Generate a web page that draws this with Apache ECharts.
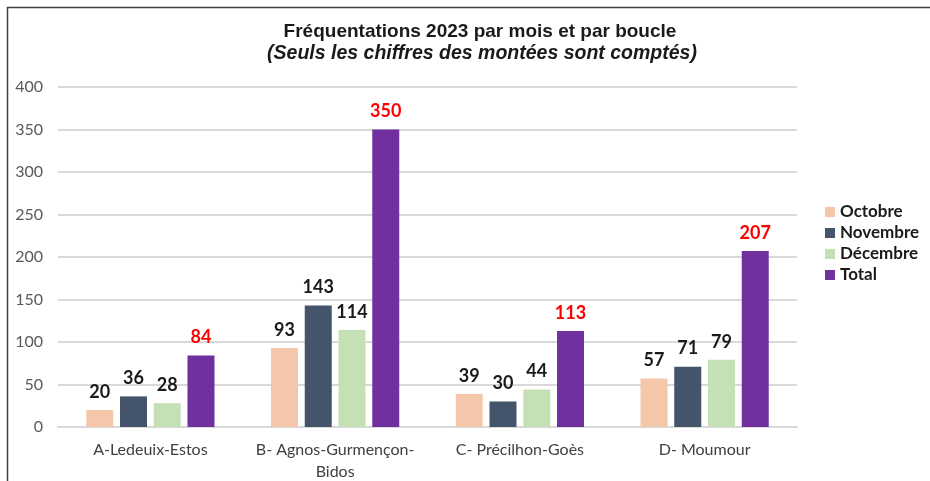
<!DOCTYPE html>
<html>
<head>
<meta charset="utf-8">
<script src="https://cdn.jsdelivr.net/npm/echarts@6/dist/echarts.min.js"></script>
<style>
html, body { margin: 0; padding: 0; background: #fff; }
#chart { width: 930px; height: 481px; }
</style>
</head>
<body>
<div id="chart"></div>
<script>
var categories = ['A-Ledeuix-Estos', 'B- Agnos-Gurmençon-\nBidos', 'C- Précilhon-Goès', 'D- Moumour'];
var octobre = [20, 93, 39, 57];
var novembre = [36, 143, 30, 71];
var decembre = [28, 114, 44, 79];
var total = [84, 350, 113, 207];
var yTicks = { min: 0, max: 400, step: 50 };

var labelFont = 'Lato, "Open Sans", sans-serif';

function makeSeries(name, data, color, labelColor) {
	return {
		name: name,
		type: 'bar',
		data: data,
		barWidth: 27,
		barGap: '25%',
		itemStyle: { color: color },
		label: {
			show: true,
			position: 'top',
			distance: 9,
			color: labelColor,
			fontFamily: labelFont,
			fontWeight: 'bold',
			fontSize: 18
		}
	};
}

var chart = echarts.init(document.getElementById('chart'));
chart.setOption({
	backgroundColor: '#fff',
	animation: false,
	graphic: [{
		type: 'rect',
		shape: { x: 7.5, y: 7.5, width: 940, height: 490 },
		style: { fill: 'none', stroke: '#404040', lineWidth: 1.5 },
		silent: true
	}],
	title: [{
		text: 'Fréquentations 2023 par mois et par boucle',
		left: 475,
		top: 17,
		textAlign: 'center',
		textStyle: {
			fontFamily: '"Liberation Sans", Arial, sans-serif',
			fontWeight: 'bold',
			fontSize: 19,
			color: '#1a1a1a'
		}
	}, {
		text: '(Seuls les chiffres des montées sont comptés)',
		left: 477,
		top: 39,
		textAlign: 'center',
		textStyle: {
			fontFamily: '"Liberation Sans", Arial, sans-serif',
			fontWeight: 'bold',
			fontStyle: 'italic',
			fontSize: 19.5,
			color: '#1a1a1a'
		}
	}],
	legend: {
		orient: 'vertical',
		left: 820,
		top: 198,
		itemWidth: 10,
		itemHeight: 10,
		itemGap: 3,
		icon: 'rect',
		textStyle: {
			fontFamily: labelFont,
			fontWeight: 'bold',
			fontSize: 17,
			lineHeight: 18,
			color: '#1a1a1a'
		},
		data: ['Octobre', 'Novembre', 'Décembre', 'Total']
	},
	grid: {
		left: 58,
		right: 133,
		top: 87,
		bottom: 54,
		outerBoundsMode: 'none'
	},
	xAxis: {
		type: 'category',
		data: categories,
		axisLine: { lineStyle: { color: '#d9d9d9', width: 2 } },
		axisTick: { show: false },
		axisLabel: {
			interval: 0,
			color: '#404040',
			fontFamily: labelFont,
			fontSize: 16,
			lineHeight: 22,
			margin: 12
		}
	},
	yAxis: {
		type: 'value',
		min: yTicks.min,
		max: yTicks.max,
		interval: yTicks.step,
		axisLine: { show: false },
		axisTick: { show: false },
		axisLabel: {
			color: '#595959',
			fontFamily: labelFont,
			fontSize: 16,
			margin: 15
		},
		splitLine: { lineStyle: { color: '#d9d9d9', width: 2 } }
	},
	series: [
		makeSeries('Octobre', octobre, '#f4c7ab', '#1a1a1a'),
		makeSeries('Novembre', novembre, '#44546a', '#1a1a1a'),
		makeSeries('Décembre', decembre, '#c5e0b4', '#1a1a1a'),
		makeSeries('Total', total, '#7030a0', '#ff0000')
	]
});
</script>
</body>
</html>
